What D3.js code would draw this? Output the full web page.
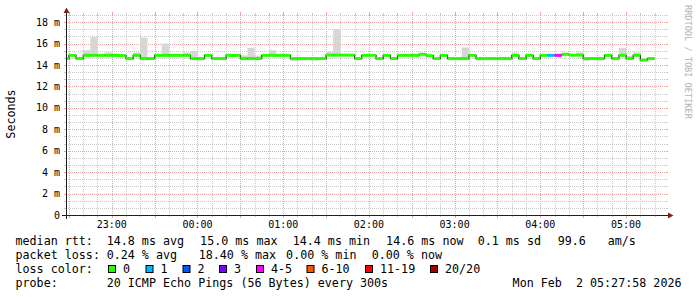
<!DOCTYPE html>
<html><head><meta charset="utf-8">
<script src="https://cdn.jsdelivr.net/npm/d3@7/dist/d3.min.js"></script>
<style>
body{margin:0;background:#fff}
text{font-family:"DejaVu Sans Mono",monospace;white-space:pre}
</style>
</head><body>
<svg id="chart" width="697" height="297"></svg>
<script>
// ---------------- data ----------------
const yTickValues = [0, 2, 4, 6, 8, 10, 12, 14, 16, 18];
const yTickLabels = ["0", "2 m", "4 m", "6 m", "8 m", "10 m", "12 m", "14 m", "16 m", "18 m"];
const hourLabels = ["23:00", "00:00", "01:00", "02:00", "03:00", "04:00", "05:00"];
const graphStart = "2026-02-01T22:27:58Z";
const graphEnd = "2026-02-02T05:27:58Z";
const firstBinStart = "2026-02-01T22:25:00Z";
const binSeconds = 300;
// median rtt per 5-minute bin (ms)
const medianMs = [
  14.6, 14.9, 14.6, 14.9, 14.9, 14.9, 14.9, 14.9, 14.88, 14.6,
  14.9, 14.6, 14.6, 14.9, 14.9, 14.9, 14.9, 14.9, 14.6, 14.6,
  14.9, 14.6, 14.6, 14.9, 14.9, 14.6, 14.6, 14.6, 14.9, 14.9,
  14.9, 14.9, 14.6, 14.6, 14.6, 14.6, 14.6, 14.92, 14.92, 14.92,
  14.92, 14.6, 14.9, 14.9, 14.6, 14.9, 14.6, 14.9, 14.9, 14.9,
  15.0, 14.87, 14.6, 14.9, 14.6, 14.6, 14.6, 14.9, 14.6, 14.6,
  14.6, 14.6, 14.6, 14.9, 14.6, 14.9, 14.6, 14.9, 14.9, 14.9,
  15.0, 14.92, 14.92, 14.6, 14.6, 14.6, 14.9, 14.6, 14.9, 14.6,
  14.9, 14.45, 14.6, null, null
];
// smoke (spread of individual pings) upper and lower bounds (ms)
const smokeHiMs = [
  14.6, 14.9, 14.6, 15.38, 16.6, 14.9, 15.17, 14.9, 14.9, 14.6,
  15.17, 16.55, 14.6, 14.9, 16.0, 14.9, 14.9, 15.17, 15.3, 14.6,
  14.9, 14.6, 14.6, 14.9, 14.9, 14.9, 15.6, 14.85, 14.9, 15.38,
  14.9, 14.9, 14.6, 14.6, 14.6, 14.6, 14.7, 15.2, 17.34, 14.92,
  14.92, 14.6, 14.9, 14.9, 14.6, 14.9, 14.6, 14.9, 14.9, 14.9,
  15.0, 14.87, 14.6, 14.9, 14.6, 14.6, 15.63, 14.9, 14.6, 14.6,
  14.6, 14.76, 14.76, 15.17, 14.6, 14.9, 14.6, 14.9, 14.9, 14.9,
  15.0, 14.92, 15.17, 14.6, 14.75, 14.6, 14.9, 14.6, 15.6, 14.85,
  15.17, 14.55, 14.72, null, null
];
const smokeLoMs = [
  14.5, 14.9, 14.6, 14.9, 14.9, 14.9, 14.9, 14.9, 14.75, 14.48,
  14.9, 14.45, 14.5, 14.9, 14.9, 14.9, 14.9, 14.9, 14.5, 14.6,
  14.9, 14.52, 14.6, 14.9, 14.9, 14.6, 14.6, 14.6, 14.9, 14.9,
  14.9, 14.9, 14.39, 14.4, 14.6, 14.42, 14.55, 14.92, 14.92, 14.92,
  14.92, 14.6, 14.9, 14.9, 14.6, 14.9, 14.6, 14.9, 14.9, 14.9,
  15.0, 14.75, 14.6, 14.9, 14.5, 14.5, 14.58, 14.9, 14.45, 14.6,
  14.6, 14.52, 14.52, 14.9, 14.6, 14.9, 14.6, 14.9, 14.9, 14.9,
  15.0, 14.92, 14.92, 14.39, 14.52, 14.6, 14.9, 14.6, 14.9, 14.5,
  14.9, 14.42, 14.6, null, null
];
// loss-color class per bin (index into lossLabels)
const lossClass = [
  0,0,0,0,0,0,0,0,0,0, 0,0,0,0,0,0,0,0,0,0,
  0,0,0,0,0,0,0,0,0,0, 0,0,0,0,0,0,0,0,0,0,
  0,0,0,0,0,0,0,0,0,0, 0,0,0,0,0,0,0,0,0,0,
  0,0,0,0,0,0,0,0,1,4, 0,0,0,0,0,0,0,0,0,0,
  0,0,0,0,0
];
const lossLabels = ["0", "1", "2", "3", "4-5", "6-10", "11-19", "20/20"];
const lossColors = ["#26ff00", "#00b8ff", "#0059ff", "#7e00ff", "#ff00ff", "#ff5500", "#ff0000", "#a10000"];
const rttTitle = "median rtt:";
const rttItems = ["14.8 ms avg", "15.0 ms max", "14.4 ms min", "14.6 ms now", "0.1 ms sd", "99.6", "am/s"];
const lossTitle = "packet loss:";
const lossItems = ["0.24 % avg", "18.40 % max", "0.00 % min", "0.00 % now"];
const colorTitle = "loss color:";
const probeTitle = "probe:";
const probeText = "20 ICMP Echo Pings (56 Bytes) every 300s";
const dateText = "Mon Feb  2 05:27:58 2026";
const yTitle = "Seconds";
const watermark = "RRDTOOL / TOBI OETIKER";

// ---------------- layout ----------------
const X0 = 66, X1 = 666, Y0 = 215, Y1 = 15;
const svg = d3.select("#chart");
svg.append("rect").attr("width", 697).attr("height", 297).attr("fill", "#ffffff");

const x = d3.scaleUtc().domain([new Date(graphStart), new Date(graphEnd)]).range([X0, X1]);
const y = d3.scaleLinear().domain([0, 56 / 3]).range([Y0, Y1]);

const gridMinor = "#c8c8c8", gridMajor = "#eba3a3";
const g = svg.append("g");

// horizontal minor grid (every 2/3 of a major step)
const minorY = d3.range(0, 29).map(k => k * 2 / 3);
minorY.forEach(v => {
  const yy = Math.round(y(v)) + 0.5;
  g.append("line").attr("x1", X0).attr("x2", X1).attr("y1", yy).attr("y2", yy)
    .attr("stroke", gridMinor).attr("stroke-dasharray", "1,1");
  g.append("line").attr("x1", X0 - 2).attr("x2", X0).attr("y1", yy).attr("y2", yy).attr("stroke", gridMinor);
  g.append("line").attr("x1", X1).attr("x2", X1 + 2).attr("y1", yy).attr("y2", yy).attr("stroke", gridMinor);
});
// vertical minor grid (10 min)
const minorT = d3.utcMinute.every(10).range(x.domain()[0], x.domain()[1]);
minorT.forEach(t => {
  const xx = Math.round(x(t)) + 0.5;
  g.append("line").attr("x1", xx).attr("x2", xx).attr("y1", Y1).attr("y2", Y0)
    .attr("stroke", gridMinor).attr("stroke-dasharray", "1,1");
  g.append("line").attr("x1", xx).attr("x2", xx).attr("y1", Y0).attr("y2", Y0 + 2).attr("stroke", gridMinor);
  g.append("line").attr("x1", xx).attr("x2", xx).attr("y1", Y1 - 2).attr("y2", Y1).attr("stroke", gridMinor);
});
// major grid
yTickValues.forEach(v => {
  const yy = Math.round(y(v)) + 0.5;
  g.append("line").attr("x1", X0).attr("x2", X1).attr("y1", yy).attr("y2", yy)
    .attr("stroke", gridMajor).attr("stroke-dasharray", "1,1");
  g.append("line").attr("x1", X0 - 2).attr("x2", X0).attr("y1", yy).attr("y2", yy).attr("stroke", gridMajor);
  g.append("line").attr("x1", X1).attr("x2", X1 + 2).attr("y1", yy).attr("y2", yy).attr("stroke", gridMajor);
});
const majorT = d3.utcMinute.every(30).range(x.domain()[0], x.domain()[1]);
majorT.forEach(t => {
  const xx = Math.round(x(t)) + 0.5;
  g.append("line").attr("x1", xx).attr("x2", xx).attr("y1", Y1).attr("y2", Y0)
    .attr("stroke", gridMajor).attr("stroke-dasharray", "1,1");
  g.append("line").attr("x1", xx).attr("x2", xx).attr("y1", Y0).attr("y2", Y0 + 3).attr("stroke", gridMajor);
  g.append("line").attr("x1", xx).attr("x2", xx).attr("y1", Y1 - 3).attr("y2", Y1).attr("stroke", gridMajor);
});

// ---------------- data marks ----------------
const t0 = new Date(firstBinStart).getTime();
const bins = medianMs.map((m, i) => {
  const a = new Date(t0 + i * binSeconds * 1000), b = new Date(t0 + (i + 1) * binSeconds * 1000);
  return {
    m, hi: smokeHiMs[i], lo: smokeLoMs[i], c: lossClass[i],
    xa: Math.max(X0, x(a)), xb: Math.min(X1, x(b))
  };
}).filter(d => d.m != null && d.xb > d.xa);

// smoke
svg.append("g").selectAll("rect").data(bins.filter(d => d.hi > d.lo)).join("rect")
  .attr("x", d => d.xa).attr("width", d => d.xb - d.xa)
  .attr("y", d => y(d.hi)).attr("height", d => y(d.lo) - y(d.hi))
  .attr("fill", "#d6d6d6");

// median line (thin, dark step line)
const stepPts = [];
bins.forEach(d => { stepPts.push([d.xa, y(d.m)]); });
stepPts.push([bins[bins.length - 1].xb, y(bins[bins.length - 1].m)]);
svg.append("path").attr("d", d3.line().curve(d3.curveStepAfter)(stepPts))
  .attr("fill", "none").attr("stroke", "#202020").attr("stroke-width", 1.2);

// loss-coloured median band
svg.append("g").selectAll("rect").data(bins).join("rect")
  .attr("x", d => d.xa).attr("width", d => d.xb - d.xa)
  .attr("y", d => y(d.m) - 1.5).attr("height", 3)
  .attr("fill", d => lossColors[d.c]);

// ---------------- axes ----------------
const axisCol = "#1f1f1f", arrowCol = "#802020";
svg.append("line").attr("x1", X0 - 4).attr("x2", X1 + 4).attr("y1", Y0 + 0.5).attr("y2", Y0 + 0.5)
  .attr("stroke", axisCol);
svg.append("line").attr("x1", X0 + 0.5).attr("x2", X0 + 0.5).attr("y1", Y0 + 4).attr("y2", Y1 - 4)
  .attr("stroke", axisCol);
svg.append("path").attr("d", `M${X1 + 2},${Y0 - 2.5}L${X1 + 2},${Y0 + 3.5}L${X1 + 7.5},${Y0 + 0.5}Z`).attr("fill", arrowCol);
svg.append("path").attr("d", `M${X0 - 2.5},${Y1 - 2}L${X0 + 3.5},${Y1 - 2}L${X0 + 0.5},${Y1 - 7.5}Z`).attr("fill", arrowCol);

// y tick labels
svg.append("g").selectAll("text").data(yTickValues).join("text")
  .attr("x", 60).attr("y", v => y(v) + 3.6)
  .attr("text-anchor", "end").attr("font-size", "10px").attr("fill", "#000")
  .text((v, i) => yTickLabels[i]);

// x tick labels
const hourT = d3.utcHour.every(1).range(x.domain()[0], x.domain()[1]);
svg.append("g").selectAll("text").data(hourT).join("text")
  .attr("x", t => x(t)).attr("y", 228)
  .attr("text-anchor", "middle").attr("font-size", "10px").attr("fill", "#000")
  .text((t, i) => hourLabels[i]);

// y title
svg.append("text").attr("transform", "translate(14.5,114) rotate(-90)")
  .attr("text-anchor", "middle").attr("font-size", "11.7px").attr("fill", "#000").text(yTitle);

// watermark
svg.append("text").attr("transform", "translate(685,5) rotate(90)")
  .attr("font-size", "8.6px").attr("fill", "#b3b3b3").text(watermark);

// ---------------- legend ----------------
const fs = "11.7px";
const leg = svg.append("g").attr("font-size", fs).attr("fill", "#000");
const rowY = [245, 259, 273, 287];
leg.append("text").attr("x", 15.5).attr("y", rowY[0]).text(rttTitle);
const rttX = [106.7, 200.1, 292.7, 386.1, 477.7, 557.7, 607.7];
rttItems.forEach((s, i) => leg.append("text").attr("x", rttX[i]).attr("y", rowY[0]).text(s));
leg.append("text").attr("x", 15.5).attr("y", rowY[1]).text(lossTitle);
const lossX = [106.7, 198.7, 286.1, 371.7];
lossItems.forEach((s, i) => leg.append("text").attr("x", lossX[i]).attr("y", rowY[1]).text(s));
leg.append("text").attr("x", 15.5).attr("y", rowY[2]).text(colorTitle);
const sqX = [108, 145.5, 182.5, 219, 256, 306.5, 365, 430];
lossLabels.forEach((s, i) => {
  leg.append("rect").attr("x", sqX[i] + 0.5).attr("y", 265.5).attr("width", 7).attr("height", 7)
    .attr("fill", lossColors[i]).attr("stroke", "#000").attr("stroke-width", 1);
  leg.append("text").attr("x", sqX[i] + 15).attr("y", rowY[2]).text(s);
});
leg.append("text").attr("x", 15.5).attr("y", rowY[3]).text(probeTitle);
leg.append("text").attr("x", 106.7).attr("y", rowY[3]).text(probeText);
leg.append("text").attr("x", 681.5).attr("y", rowY[3]).attr("text-anchor", "end").text(dateText);
</script>
</body></html>
